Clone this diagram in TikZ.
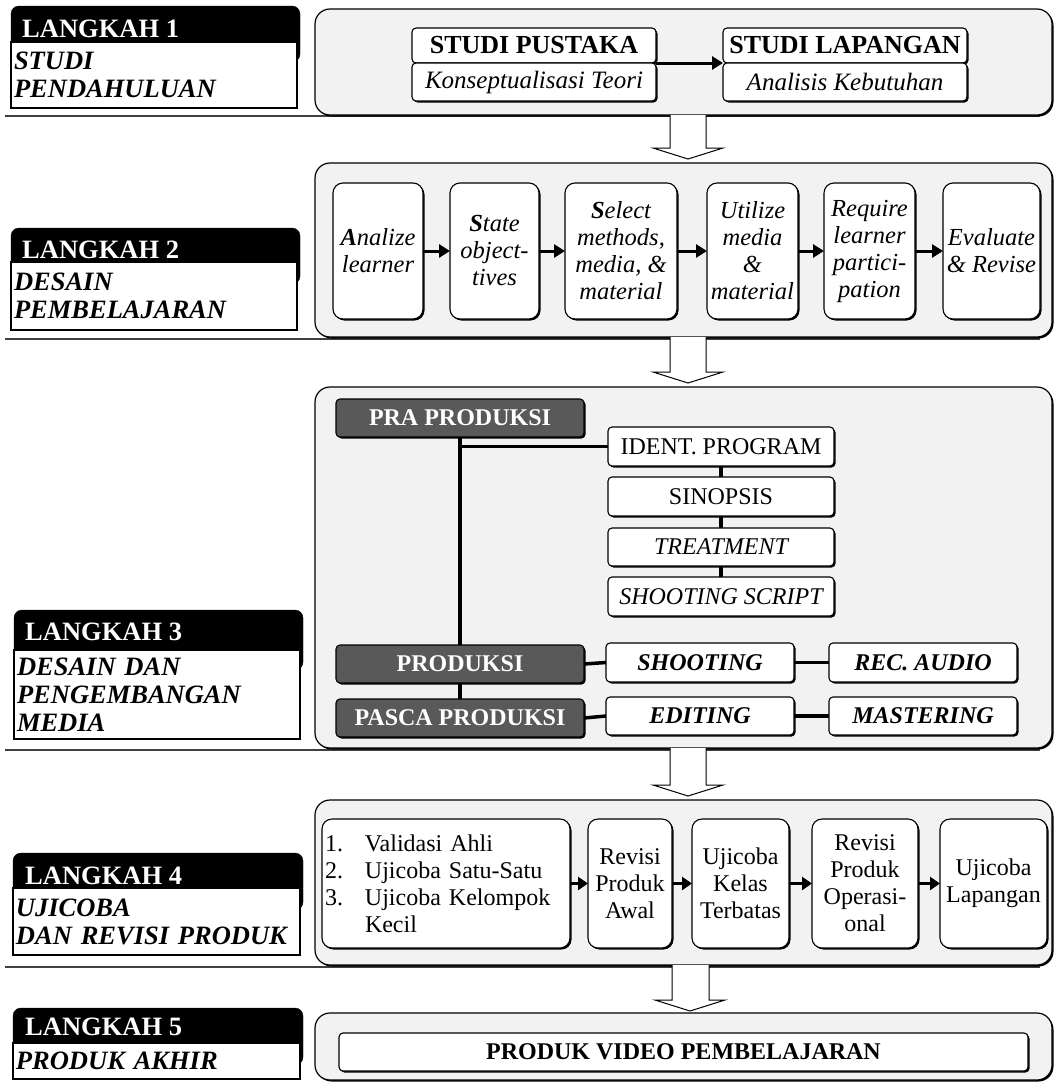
\documentclass[tikz,border=0pt]{standalone}
\usepackage{fontspec}
\setmainfont{Liberation Serif}
\usetikzlibrary{arrows.meta,shadows}
\definecolor{grpfill}{HTML}{F2F2F2}
\definecolor{darkbox}{HTML}{595959}
\newcommand\fs[2]{\fontsize{#1}{#2}\selectfont}
\newcommand\bx[7]{%
 \pgfmathsetmacro\cxx{(#3+#5)/2}%
 \pgfmathsetmacro\cyy{(#4+#6)/2}%
 \pgfmathsetmacro\ww{#5-#3}%
 \pgfmathsetmacro\hh{#6-#4}%
 \pgfmathsetmacro\tw{#5-#3-6}%
 \node[#2, minimum width=\ww pt, minimum height=\hh pt] (#1) at (\cxx,\cyy) {#7};}
\tikzset{
 shd/.style={drop shadow={shadow xshift=1.5pt, shadow yshift=-1.5pt, opacity=1, fill=black}},
 grp/.style={draw=black, fill=grpfill, line width=1.2pt, rounded corners=15pt, inner sep=0pt, outer sep=0pt, shd},
 wbox/.style={draw=black, fill=white, line width=1.1pt, rounded corners=4pt, inner sep=0pt, outer sep=0pt, align=center, shd},
 rbox/.style={wbox, rounded corners=10pt, font=\fs{24.5}{27}\itshape},
 qbox/.style={wbox, rounded corners=10pt, font=\fs{24}{27}},
 sbox/.style={wbox, font=\fs{24}{26}},
 dbox/.style={draw=black, fill=darkbox, text=white, line width=1.1pt, rounded corners=4pt, inner sep=0pt, outer sep=0pt, font=\fs{24}{26}\bfseries, shd},
 blk/.style={draw=black, fill=black, rounded corners=8pt, inner sep=0pt, outer sep=0pt},
 lbox/.style={draw=black, fill=white, line width=1.3pt, inner xsep=3pt, inner ysep=0pt, outer sep=0pt, text width=\tw pt, align=left, font=\fs{26.5}{28}\bfseries\itshape},
 ltext/.style={text=white, font=\fs{26.5}{28}\bfseries, anchor=base west, inner sep=0pt},
 conn/.style={line width=3.5pt},
 arr/.style={line width=3pt, -{Triangle[length=11pt,width=13pt]}},
 sarr/.style={line width=3pt, -{Triangle[length=10pt,width=13pt]}},
 hollow/.style={draw=black, fill=white, line width=1pt, line join=miter},
 uline/.style={line width=2pt, draw=black!75}
}
\begin{document}
\begin{tikzpicture}[x=1pt,y=-1pt]
\useasboundingbox (0,0) rectangle (1055,1084);
% under lines
\draw[uline] (5,116) -- (1040,116);
\draw[uline] (5,339) -- (1040,339);
\draw[uline] (5,750) -- (1040,750);
\draw[uline] (5,967) -- (1040,967);
% left labels
\bx{k1}{blk}{11}{6}{300}{62}{}
\bx{l1}{lbox}{11}{42}{297}{108}{STUDI\\PENDAHULUAN}
\node[ltext] (t1) at (22,37) {LANGKAH 1};
\bx{k2}{blk}{11}{228}{300}{284}{}
\bx{l2}{lbox}{11}{262}{297}{330}{DESAIN\\PEMBELAJARAN}
\node[ltext] (t2) at (22,258) {LANGKAH 2};
\bx{k3}{blk}{14}{610}{303}{670}{}
\bx{l3}{lbox}{14}{650}{300}{739}{DESAIN DAN\\PENGEMBANGAN\\MEDIA}
\node[ltext] (t3) at (25,640) {LANGKAH 3};
\bx{k4}{blk}{13}{853}{303}{910}{}
\bx{l4}{lbox}{13}{888}{300}{955}{UJICOBA\\DAN REVISI PRODUK}
\node[ltext] (t4) at (25,884) {LANGKAH 4};
\bx{k5}{blk}{13}{1008}{303}{1065}{}
\bx{l5}{lbox}{13}{1043}{300}{1079}{PRODUK AKHIR}
\node[ltext] (t5) at (25,1035) {LANGKAH 5};
% group boxes
\bx{g1}{grp}{315}{9}{1052}{115}{}
\bx{g2}{grp}{315}{163}{1052}{337}{}
\bx{g3}{grp}{315}{387}{1052}{748}{}
\bx{g4}{grp}{315}{800}{1052}{965}{}
\bx{g5}{grp}{315}{1013}{1052}{1080}{}
% hollow arrows
\draw[hollow] (670,115) -- (670,148) -- (653,148) -- (688,159) -- (723,148) -- (706,148) -- (706,115);
\draw[hollow] (670,337) -- (670,372) -- (653,372) -- (688,383) -- (723,372) -- (706,372) -- (706,337);
\draw[hollow] (670,748) -- (670,785) -- (653,785) -- (688,796) -- (723,785) -- (706,785) -- (706,748);
\draw[hollow] (672,965) -- (672,1000) -- (655,1000) -- (690,1011) -- (725,1000) -- (709,1000) -- (709,965);
% group 1
\bx{sph}{wbox,font=\fs{26}{28}\bfseries}{412}{28}{656}{63}{STUDI PUSTAKA}
\bx{sps}{wbox,font=\fs{25}{28}\itshape}{412}{63}{656}{101}{Konseptualisasi Teori}
\bx{slh}{wbox,font=\fs{26}{28}\bfseries}{723}{28}{967}{63}{STUDI LAPANGAN}
\bx{sls}{wbox,font=\fs{25}{28}\itshape}{723}{63}{967}{101}{Analisis Kebutuhan}
\draw[arr] (sph.south east) -- (slh.south west);
% group 2
\bx{a1}{rbox}{333}{183}{423}{319}{\textbf{A}nalize\\learner}
\bx{a2}{rbox}{450}{183}{539}{319}{\textbf{S}tate\\object-\\tives}
\bx{a3}{rbox}{565}{183}{677}{319}{\textbf{S}elect\\methods,\\media, \&\\material}
\bx{a4}{rbox}{707}{183}{798}{319}{Utilize\\media\\\&\\material}
\bx{a5}{rbox}{824}{183}{915}{319}{Require\\learner\\partici-\\pation}
\bx{a6}{rbox}{943}{183}{1040}{319}{Evaluate\\\& Revise}
\draw[arr] (a1.east) -- (a2.west);
\draw[arr] (a2.east) -- (a3.west);
\draw[arr] (a3.east) -- (a4.west);
\draw[arr] (a4.east) -- (a5.west);
\draw[arr] (a5.east) -- (a6.west);
% group 3
\bx{pra}{dbox}{336}{399}{584}{437}{PRA PRODUKSI}
\bx{ident}{sbox}{608}{427}{834}{466}{IDENT. PROGRAM}
\bx{sin}{sbox}{608}{477}{834}{516}{SINOPSIS}
\bx{treat}{sbox,font=\fs{24}{26}\itshape}{608}{528}{834}{566}{TREATMENT}
\bx{ss}{sbox,font=\fs{24}{26}\itshape}{608}{577}{834}{616}{SHOOTING SCRIPT}
\bx{prod}{dbox}{336}{645}{584}{683}{PRODUKSI}
\bx{pasca}{dbox}{336}{699}{584}{737}{PASCA PRODUKSI}
\bx{shoot}{sbox,font=\fs{24}{26}\bfseries\itshape}{606}{643}{794}{682}{SHOOTING}
\bx{rec}{sbox,font=\fs{24}{26}\bfseries\itshape}{829}{643}{1017}{682}{REC. AUDIO}
\bx{edit}{sbox,font=\fs{24}{26}\bfseries\itshape}{606}{697}{794}{735}{EDITING}
\bx{mast}{sbox,font=\fs{24}{26}\bfseries\itshape}{829}{697}{1017}{735}{MASTERING}
\draw[conn] (pra.south) -- (prod.north);
\draw[conn] (prod.south) -- (pasca.north);
\draw[conn] (pra.south |- ident.west) -- (ident.west);
\draw[conn] (ident.south) -- (sin.north);
\draw[conn] (sin.south) -- (treat.north);
\draw[conn] (treat.south) -- (ss.north);
\draw[conn] (prod.east) -- (shoot.west);
\draw[conn] (shoot.east) -- (rec.west);
\draw[conn] (pasca.east) -- (edit.west);
\draw[conn] (edit.east) -- (mast.west);
% group 4
\bx{lst}{qbox,align=left,text width=\tw pt,inner xsep=3pt}{322}{819}{570}{948}{\makebox[40pt][l]{1.}Validasi Ahli\\\makebox[40pt][l]{2.}Ujicoba Satu-Satu\\\makebox[40pt][l]{3.}Ujicoba Kelompok\\\hspace*{40pt}Kecil}
\bx{r1}{qbox}{588}{819}{672}{948}{Revisi\\Produk\\Awal}
\bx{r2}{qbox}{692}{819}{789}{948}{Ujicoba\\Kelas\\Terbatas}
\bx{r3}{qbox}{812}{819}{918}{948}{Revisi\\Produk\\Operasi-\\onal}
\bx{r4}{qbox}{940}{819}{1047}{948}{Ujicoba\\Lapangan}
\draw[sarr] (lst.east) -- (r1.west);
\draw[sarr] (r1.east) -- (r2.west);
\draw[sarr] (r2.east) -- (r3.west);
\draw[sarr] (r3.east) -- (r4.west);
% group 5
\bx{pv}{wbox,font=\fs{24}{26}\bfseries}{339}{1033}{1028}{1071}{PRODUK VIDEO PEMBELAJARAN}
\end{tikzpicture}
\end{document}
